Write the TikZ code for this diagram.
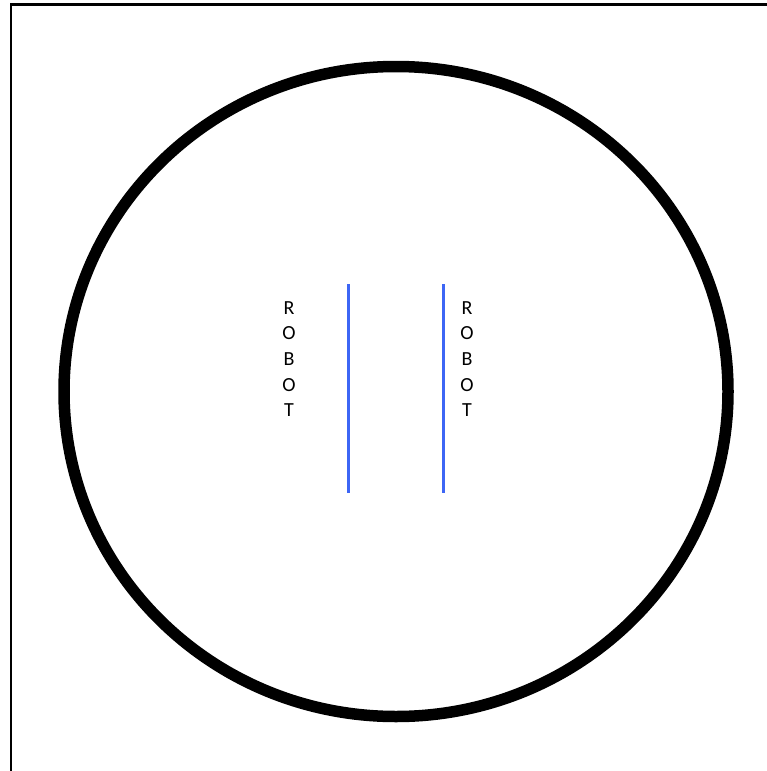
\documentclass[tikz,border=0pt]{standalone}
\usepackage{fontspec}
\setmainfont{Carlito}
\usepackage{tikz}
\usetikzlibrary{positioning,calc}
\definecolor{botblue}{RGB}{61,102,245}
\tikzset{
  frm/.style     = {line width=2.5pt},
  arena/.style   = {line width=11.5pt},
  wall/.style    = {draw=botblue, line width=3pt},
  lbl/.style     = {font=\fontsize{20}{25.7}\selectfont, align=center, inner sep=0pt},
}

\begin{document}
\begin{tikzpicture}[x=1pt, y=-1pt]
  \useasboundingbox (0,0) rectangle (767,771);
  \draw[frm] (11,771) -- (11,4.5) -- (767,4.5);
  \draw[arena] (396,391.5) ellipse [x radius=332, y radius=325];
  \coordinate (wl1) at (348,284);
  \coordinate (wl2) at (348,493);
  \coordinate (wr1) at (443,284);
  \coordinate (wr2) at (443,493);
  \draw[wall] (wl1) -- (wl2);
  \draw[wall] (wr1) -- (wr2);
  \node[lbl] (robotl) at (289,359) {R\\O\\B\\O\\T};
  \node[lbl] (robotr) at (467,359) {R\\O\\B\\O\\T};
\end{tikzpicture}
\end{document}
